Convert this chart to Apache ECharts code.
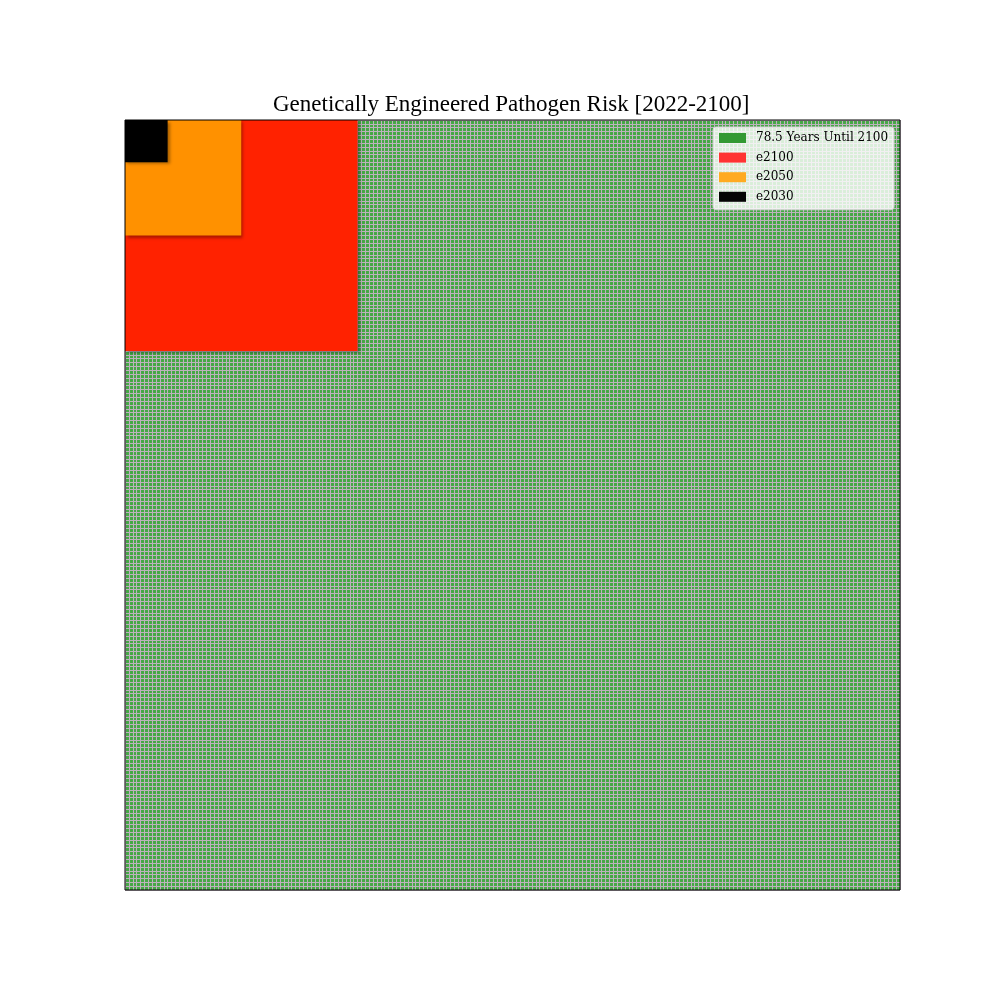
<!DOCTYPE html>
<html><head><meta charset="utf-8">
<script src="https://cdn.jsdelivr.net/npm/echarts@6/dist/echarts.min.js"></script>
<style>html,body{margin:0;padding:0;background:#fff}#c{width:1000px;height:1000px}</style>
</head><body><div id="c"></div>
<script>
// grid of cells (side length in cells)
const gridCells = 200;
const seriesNames = ['78.5 Years Until 2100', 'e2100', 'e2050', 'e2030'];
// squares: [x0, y0, side] in cell units, top-left origin
const squareTotal = [0, 0, 200];
const square2100 = [0, 0, 60];
const square2050 = [0, 0, 30];
const square2030 = [0, 0, 11];
const plotColors = ['#44a844', '#ff2200', '#ff9100', '#000000'];
const legendColors = ['#339933', '#ff3333', '#ffaa22', '#050505'];

const chart = echarts.init(document.getElementById('c'));
function renderSquare(shadow) {
  return function (params, api) {
    const x0 = api.value(0), y0 = api.value(1), s = api.value(2);
    const p0 = api.coord([x0, y0]);
    const p1 = api.coord([x0 + s, y0 + s]);
    const style = { fill: api.visual('color') };
    if (shadow) {
      style.shadowColor = 'rgba(0,0,0,0.35)';
      style.shadowBlur = 3;
      style.shadowOffsetX = 2;
      style.shadowOffsetY = 2;
    }
    return {
      type: 'rect',
      shape: { x: Math.min(p0[0], p1[0]), y: Math.min(p0[1], p1[1]),
               width: Math.abs(p1[0] - p0[0]), height: Math.abs(p1[1] - p0[1]) },
      style: style
    };
  };
}
const squares = [squareTotal, square2100, square2050, square2030];
const series = squares.map((sq, i) => ({
  type: 'custom',
  name: seriesNames[i],
  z: i === 0 ? 0 : 2 + i,
  silent: true,
  clip: true,
  color: plotColors[i],
  renderItem: renderSquare(i !== 0),
  data: [sq]
}));
const axisCommon = {
  type: 'value', min: 0, max: gridCells, interval: 1, z: 1,
  axisLine: { show: false }, axisTick: { show: false }, axisLabel: { show: false },
  splitLine: { show: true, lineStyle: { color: '#bdb2bd', width: 1.05 } }
};
chart.setOption({
  animation: false,
  backgroundColor: '#ffffff',
  title: {
    text: 'Genetically Engineered Pathogen Risk [2022-2100]',
    left: 273, top: 93, padding: 0,
    textStyle: { fontFamily: 'Liberation Serif', fontWeight: 'normal', fontSize: 23, color: '#000' }
  },
  legend: {
    left: 713, top: 127,
    orient: 'vertical',
    backgroundColor: 'rgba(255,255,255,0.8)',
    borderColor: '#d0d0d0', borderWidth: 1, borderRadius: 3,
    padding: [5, 6, 7, 6],
    itemWidth: 27, itemHeight: 10, itemGap: 7.6,
    textStyle: { fontFamily: 'DejaVu Serif', fontSize: 12, color: '#000', lineHeight: 12, padding: [0, 0, 0, 5] },
    data: seriesNames.map((n, i) => ({ name: n, icon: 'rect', itemStyle: { color: legendColors[i] } }))
  },
  grid: { left: 125, top: 120, width: 775, height: 770, show: true, z: 10,
          backgroundColor: 'transparent', borderColor: '#000', borderWidth: 1 },
  xAxis: Object.assign({}, axisCommon),
  yAxis: Object.assign({}, axisCommon, { inverse: true }),
  series: series
});
</script></body></html>
